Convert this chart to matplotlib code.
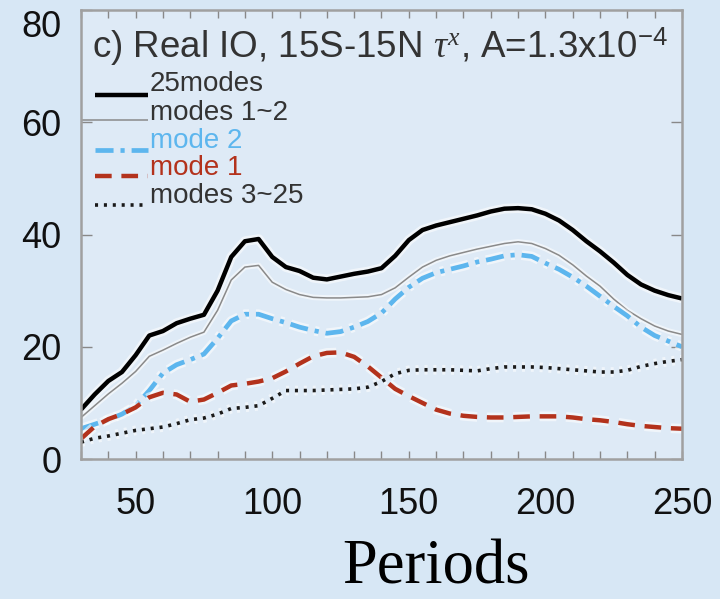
import matplotlib
matplotlib.use("Agg")
import matplotlib.pyplot as plt
import matplotlib.patheffects as pe
import numpy as np

# ---------------- data ----------------
periods = [30, 35, 40, 45, 50, 55, 60, 65, 70, 75, 80, 85, 90, 95, 100,
           105, 110, 115, 120, 125, 130, 135, 140, 145, 150, 155, 160, 165,
           170, 175, 180, 185, 190, 195, 200, 205, 210, 215, 220, 225, 230,
           235, 240, 245, 250]

modes_all = [8.8, 11.5, 13.9, 15.5, 18.5, 22.0, 22.8, 24.2, 25.0, 25.7, 30.0,
             36.0, 38.8, 39.2, 36.0, 34.2, 33.5, 32.3, 32.0, 32.5, 33.0, 33.4,
             34.0, 36.2, 39.0, 40.8, 41.6, 42.2, 42.8, 43.4, 44.1, 44.6, 44.7,
             44.5, 43.7, 42.5, 40.8, 38.8, 37.0, 35.0, 32.8, 31.1, 30.0, 29.2,
             28.6]

modes_1_2 = [7.4, 9.5, 11.6, 13.5, 15.6, 18.3, 19.4, 20.6, 21.7, 22.6, 26.5,
             31.9, 34.2, 34.5, 31.5, 30.2, 29.3, 28.8, 28.7, 28.7, 28.8, 28.9,
             29.3, 30.5, 32.4, 34.2, 35.4, 36.2, 36.8, 37.4, 37.9, 38.4, 38.7,
             38.4, 37.5, 36.3, 34.6, 32.6, 30.8, 28.5, 26.5, 25.0, 23.7, 22.8,
             22.2]

mode_2 = [5.4, 6.2, 7.0, 8.0, 9.5, 12.2, 15.3, 16.8, 17.7, 18.7, 21.5, 24.6,
          25.8, 25.8, 25.0, 24.3, 23.5, 22.9, 22.4, 22.7, 23.5, 24.5, 26.0,
          28.5, 30.6, 32.2, 33.2, 33.8, 34.4, 35.1, 35.6, 36.2, 36.4, 36.1,
          34.9, 33.8, 32.4, 30.8, 29.0, 27.2, 25.5, 23.5, 22.0, 21.0, 20.0]

mode_1 = [3.6, 5.8, 7.1, 8.0, 9.2, 11.0, 11.8, 11.5, 10.2, 10.6, 11.8, 13.1,
          13.4, 13.8, 14.4, 15.6, 17.0, 18.3, 18.9, 19.0, 18.2, 16.5, 14.5,
          12.5, 11.2, 10.0, 8.8, 8.1, 7.7, 7.5, 7.4, 7.4, 7.5, 7.6, 7.6, 7.6,
          7.4, 7.1, 6.9, 6.6, 6.2, 5.9, 5.7, 5.5, 5.4]

modes_3_25 = [3.0, 3.7, 4.1, 4.6, 5.1, 5.4, 5.7, 6.3, 7.0, 7.3, 8.0, 9.0, 9.2,
              9.5, 10.8, 12.2, 12.2, 12.2, 12.3, 12.4, 12.5, 12.8, 13.8, 15.2,
              15.8, 15.9, 15.9, 15.9, 15.8, 15.7, 16.1, 16.4, 16.4, 16.4, 16.3,
              16.1, 15.9, 15.7, 15.5, 15.5, 15.8, 16.5, 17.0, 17.4, 17.7]

labels = ["25modes", "modes 1~2", "mode 2", "mode 1", "modes 3~25"]
xticks = [50, 100, 150, 200, 250]
yticks = [0, 20, 40, 60, 80]
title = r"c) Real IO, 15S-15N $\tau^x$, A=1.3x10$^{-4}$"
xlabel = "Periods"

# ---------------- style ----------------
plt.rcParams['font.family'] = ['Liberation Sans', 'DejaVu Sans']
plt.rcParams['mathtext.fontset'] = 'custom'
plt.rcParams['mathtext.rm'] = 'Liberation Sans'
plt.rcParams['mathtext.it'] = 'Liberation Serif:italic'
plt.rcParams['lines.scale_dashes'] = False

bg = '#D7E7F5'
fig = plt.figure(figsize=(7.2, 5.99), dpi=100, facecolor=bg)
ax = fig.add_axes([0.1125, 0.2337, 0.8347, 0.7496])
ax.set_facecolor('#DEEAF6')

halo = [pe.Stroke(linewidth=7, foreground='white', alpha=0.55), pe.Normal()]
halo_thin = [pe.Stroke(linewidth=4, foreground='white', alpha=0.55), pe.Normal()]

styles = [
    dict(color='black', lw=3.2, ls='-', pe=halo),
    dict(color='#8a8a8a', lw=1.1, ls='-', pe=halo_thin),
    dict(color='#5DB6EE', lw=3.4, ls=(0, (13, 5, 3, 5)), pe=halo),
    dict(color='#B3321C', lw=3.2, ls=(0, (12, 7)), pe=halo),
    dict(color='#1a1a1a', lw=2.6, ls=(0, (2.2, 4.2)), pe=halo),
]
series = [modes_all, modes_1_2, mode_2, mode_1, modes_3_25]

for s, st in zip(series, styles):
    ax.plot(periods, s, color=st['color'], lw=st['lw'], ls=st['ls'],
            path_effects=st['pe'], solid_capstyle='butt', dash_capstyle='butt')

ax.set_xlim(30, 250)
ax.set_ylim(0, 80)
ax.set_xticks(xticks)
ax.set_xticks(np.arange(30, 251, 10), minor=True)
ax.set_yticks(yticks)

for sp in ax.spines.values():
    sp.set_color('#A0A0A0')
    sp.set_linewidth(1.8)

ax.tick_params(axis='x', which='both', direction='in', top=True, bottom=True,
               color='#888888', labelsize=26, pad=20, length=6, width=1)
ax.tick_params(axis='y', which='both', direction='in', left=True, right=True,
               color='#888888', labelsize=26, pad=14, length=8, width=1)
fig.canvas.draw()
for t in ax.get_xticklabels() + ax.get_yticklabels():
    t.set_color('#111111')
ylabs = ax.get_yticklabels()
ylabs[-1].set_va('top')

# title inside the axes
ax.text(0.018, 0.967, title, transform=ax.transAxes, fontsize=26.5,
        color='#333333', ha='left', va='top')

# legend (IDL-style: short line below-left of each label)
leg_text_y = [0.835, 0.771, 0.708, 0.648, 0.586]
leg_line_y = [0.811, 0.755, 0.688, 0.630, 0.566]
leg_text_col = ['#333333', '#333333', '#5DB6EE', '#B3321C', '#333333']
leg_line_x0 = [0.023, 0.0, 0.023, 0.023, 0.023]
for i, (lab, st) in enumerate(zip(labels, styles)):
    ax.plot([leg_line_x0[i], 0.112], [leg_line_y[i], leg_line_y[i]],
            transform=ax.transAxes, color=st['color'], lw=st['lw'],
            ls=st['ls'], solid_capstyle='butt', dash_capstyle='butt',
            clip_on=False)
    ax.text(0.114, leg_text_y[i], lab, transform=ax.transAxes, fontsize=20,
            color=leg_text_col[i], ha='left', va='center')

fig.text(0.606, 0.026, xlabel, fontsize=45, family='Liberation Serif',
         ha='center', va='baseline', color='black')

fig.savefig('out.png', dpi=100, facecolor=bg)
